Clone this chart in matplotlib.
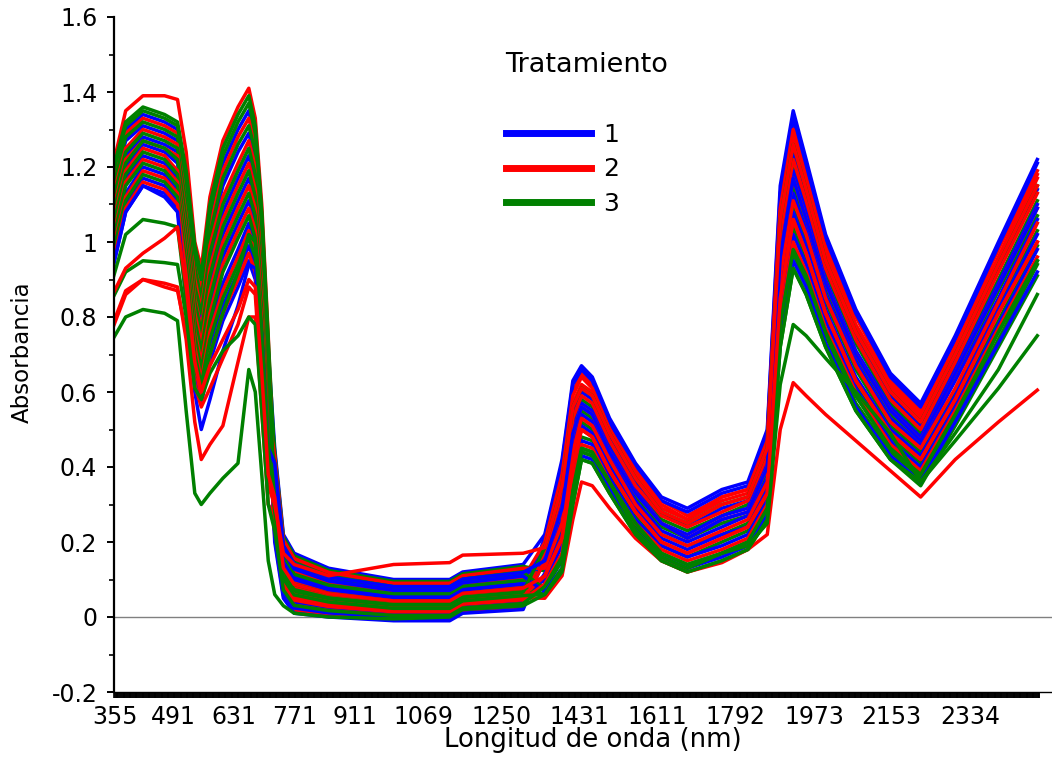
import numpy as np
import matplotlib
matplotlib.use("Agg")
import matplotlib.pyplot as plt
from matplotlib.lines import Line2D

wavelength = [350, 380, 420, 470, 500, 520, 540, 555, 575, 605, 640, 665, 680, 695, 710,
              725, 745, 770, 850, 1000, 1130, 1160, 1300,
              1350, 1390, 1415, 1435, 1460, 1500, 1560, 1620, 1680, 1760, 1820, 1865,
              1895, 1925, 1955, 2000, 2070, 2150, 2220, 2300, 2400, 2490]

# treatment 1 (blue)
blue_spectra = [
    [1.17, 1.30, 1.34, 1.32, 1.30, 1.16, .96, .88, 1.06, 1.21, 1.30, 1.35, 1.27, 1.05, .71,
     .45, .220, .170, .130, .100, .100, .120, .140,
     .220, .42, .63, .67, .64, .53, .41, .32, .29, .34, .36, .50, 1.15, 1.35, 1.22, 1.02, .82, .65, .57, .75, 1.00, 1.22],
    [1.13, 1.27, 1.31, 1.29, 1.27, 1.12, .91, .84, 1.01, 1.15, 1.24, 1.29, 1.22, 1.00, .67,
     .24, .080, .038, .023, .009, .009, .029, .041,
     .213, .41, .62, .66, .63, .52, .40, .31, .28, .33, .35, .49, 1.13, 1.33, 1.20, 1.01, .81, .64, .56, .74, .99, 1.21],
    [1.09, 1.23, 1.28, 1.26, 1.24, 1.08, .87, .79, .95, 1.08, 1.17, 1.23, 1.16, .95, .63,
     .35, .153, .107, .079, .057, .057, .077, .093,
     .178, .34, .54, .60, .58, .48, .36, .28, .24, .29, .31, .44, 1.04, 1.24, 1.13, .94, .75, .59, .51, .69, .93, 1.14],
    [1.06, 1.20, 1.26, 1.24, 1.21, 1.04, .82, .74, .89, 1.02, 1.11, 1.17, 1.11, .90, .59,
     .20, .050, .010, .000, -.010, -.010, .010, .020,
     .157, .30, .50, .57, .55, .45, .34, .25, .22, .27, .29, .41, .98, 1.19, 1.08, .90, .71, .56, .48, .66, .89, 1.10],
    [1.02, 1.17, 1.23, 1.21, 1.17, 1.00, .78, .70, .83, .96, 1.05, 1.11, 1.05, .85, .55,
     .40, .183, .135, .102, .076, .076, .096, .114,
     .137, .26, .46, .54, .52, .43, .31, .23, .20, .24, .27, .37, .93, 1.13, 1.03, .86, .68, .53, .46, .63, .85, 1.06],
    [.99, 1.13, 1.20, 1.18, 1.14, .97, .73, .65, .78, .89, .98, 1.05, .99, .80, .52,
     .22, .065, .024, .011, .000, .000, .020, .030,
     .116, .22, .41, .51, .49, .40, .29, .21, .18, .22, .24, .34, .87, 1.08, .99, .82, .64, .50, .43, .59, .82, 1.02],
    [.95, 1.10, 1.17, 1.15, 1.11, .93, .69, .60, .72, .83, .92, .99, .94, .75, .48,
     .34, .146, .100, .073, .052, .052, .072, .088,
     .095, .19, .37, .47, .46, .37, .26, .19, .16, .19, .22, .31, .81, 1.02, .94, .79, .61, .47, .40, .56, .78, .98],
    [.93, 1.08, 1.15, 1.13, 1.09, .90, .66, .57, .68, .79, .88, .95, .90, .72, .45,
     .38, .176, .128, .096, .071, .071, .091, .109,
     .067, .13, .31, .43, .42, .34, .23, .16, .13, .16, .19, .27, .74, .95, .88, .73, .56, .43, .36, .52, .73, .92],
    [.93, 1.08, 1.15, 1.12, 1.08, .84, .60, .50, .58, .71, .83, .94, .93, .75, .45,
     .41, .190, .142, .107, .081, .081, .101, .119,
     .150, .29, .49, .56, .54, .44, .33, .25, .21, .26, .28, .40, .96, 1.17, 1.06, .89, .70, .55, .47, .65, .88, 1.09],
]

# treatment 2 (red)
red_spectra = [
    [1.20, 1.35, 1.39, 1.39, 1.38, 1.24, 1.00, .93, 1.12, 1.27, 1.36, 1.41, 1.33, 1.10, .75,
     .31, .124, .080, .057, .038, .038, .058, .072,
     .206, .39, .60, .65, .62, .51, .39, .31, .27, .32, .34, .48, 1.11, 1.31, 1.19, .99, .80, .63, .55, .73, .98, 1.19],
    [1.15, 1.29, 1.33, 1.31, 1.29, 1.15, .94, .87, 1.04, 1.19, 1.28, 1.33, 1.26, 1.03, .70,
     .37, .168, .121, .090, .067, .067, .087, .103,
     .199, .38, .59, .64, .61, .50, .39, .30, .26, .32, .34, .47, 1.09, 1.30, 1.17, .98, .78, .62, .54, .72, .96, 1.18],
    [1.12, 1.25, 1.30, 1.28, 1.26, 1.11, .90, .82, .99, 1.12, 1.21, 1.27, 1.20, .98, .66,
     .21, .057, .017, .006, -.005, -.005, .015, .025,
     .192, .37, .57, .62, .60, .50, .38, .29, .26, .31, .33, .46, 1.08, 1.28, 1.16, .97, .77, .61, .53, .71, .95, 1.17],
    [1.08, 1.22, 1.27, 1.25, 1.23, 1.07, .85, .77, .93, 1.06, 1.15, 1.21, 1.14, .94, .62,
     .33, .139, .093, .068, .047, .047, .067, .083,
     .171, .33, .53, .59, .57, .47, .35, .27, .24, .28, .31, .43, 1.02, 1.22, 1.11, .93, .74, .58, .50, .68, .92, 1.13],
    [1.05, 1.19, 1.25, 1.23, 1.19, 1.03, .81, .73, .87, 1.00, 1.09, 1.15, 1.09, .89, .58,
     .23, .072, .031, .017, .004, .004, .024, .036,
     .150, .29, .49, .56, .54, .44, .33, .25, .21, .26, .28, .40, .96, 1.17, 1.06, .89, .70, .55, .47, .65, .88, 1.09],
    [1.01, 1.16, 1.22, 1.20, 1.16, .99, .76, .68, .81, .94, 1.03, 1.09, 1.03, .84, .54,
     .43, .205, .156, .119, .090, .090, .110, .130,
     .130, .25, .44, .53, .51, .42, .30, .22, .19, .23, .26, .36, .91, 1.11, 1.02, .85, .67, .52, .45, .61, .84, 1.05],
    [.98, 1.12, 1.19, 1.17, 1.13, .95, .72, .63, .76, .87, .96, 1.03, .97, .79, .50,
     .28, .102, .059, .040, .023, .023, .043, .057,
     .109, .21, .40, .50, .48, .39, .28, .20, .17, .21, .24, .33, .85, 1.06, .97, .81, .63, .49, .42, .58, .81, 1.00],
    [.94, 1.09, 1.16, 1.14, 1.10, .91, .67, .59, .70, .81, .90, .97, .92, .74, .46,
     .25, .087, .045, .028, .014, .014, .034, .046,
     .088, .17, .36, .46, .45, .36, .25, .18, .15, .18, .21, .30, .79, 1.00, .92, .77, .60, .46, .39, .55, .77, .96],
    [.77, .86, .90, .89, .88, .74, .52, .42, .46, .51, .68, .80, .80, .55, .30,
     .27, .094, .052, .034, .019, .019, .039, .051,
     .05, .11, .26, .36, .35, .29, .21, .15, .12, .145, .18, .22, .50, .625, .59, .54, .47, .39, .32, .42, .52, .605],
    [.78, .87, .90, .88, .87, .76, .62, .56, .61, .69, .78, .88, .86, .60, .35,
     .30, .17, .14, .11, .14, .145, .165, .17,
     .185, .35, .56, .61, .59, .49, .37, .28, .25, .30, .32, .45, 1.06, 1.26, 1.14, .95, .76, .60, .52, .70, .94, 1.15],
    [.86, .93, .97, 1.01, 1.04, .88, .68, .60, .67, .74, .82, .90, .88, .65, .38,
     .32, .131, .087, .062, .043, .043, .063, .077,
     .109, .21, .40, .50, .48, .39, .28, .20, .17, .21, .24, .33, .85, 1.06, .97, .81, .63, .49, .42, .58, .81, 1.00],
]

# treatment 3 (green)
green_spectra = [
    [1.19, 1.32, 1.36, 1.34, 1.32, 1.19, .99, .91, 1.10, 1.25, 1.34, 1.39, 1.31, 1.08, .74,
     .42, .198, .149, .113, .086, .086, .106, .124,
     .143, .28, .47, .55, .53, .43, .32, .24, .21, .25, .27, .39, .94, 1.15, 1.05, .88, .69, .54, .47, .64, .87, 1.07],
    [1.14, 1.28, 1.32, 1.30, 1.28, 1.13, .93, .85, 1.02, 1.17, 1.26, 1.31, 1.24, 1.02, .68,
     .29, .109, .066, .045, .028, .028, .048, .062,
     .164, .32, .52, .58, .56, .46, .34, .26, .23, .27, .30, .42, 1.00, 1.20, 1.10, .92, .73, .57, .49, .67, .90, 1.11],
    [1.11, 1.24, 1.29, 1.27, 1.25, 1.10, .88, .81, .97, 1.10, 1.19, 1.25, 1.18, .97, .65,
     .44, .213, .163, .124, .095, .095, .115, .135,
     .123, .24, .43, .52, .50, .41, .29, .22, .19, .22, .25, .35, .89, 1.09, 1.00, .84, .66, .51, .44, .60, .83, 1.03],
    [1.07, 1.21, 1.27, 1.25, 1.22, 1.06, .84, .76, .91, 1.04, 1.13, 1.19, 1.12, .92, .61,
     .27, .094, .052, .034, .019, .019, .039, .051,
     .102, .20, .39, .48, .47, .38, .27, .19, .16, .20, .23, .32, .83, 1.04, .95, .80, .62, .48, .41, .57, .79, .99],
    [1.04, 1.18, 1.24, 1.22, 1.18, 1.02, .79, .71, .85, .98, 1.07, 1.13, 1.07, .87, .57,
     .36, .161, .114, .085, .062, .062, .082, .098,
     .081, .16, .34, .45, .44, .36, .25, .17, .14, .17, .20, .29, .78, .98, .91, .76, .59, .45, .38, .54, .76, .95],
    [1.00, 1.15, 1.21, 1.19, 1.15, .98, .75, .66, .79, .92, 1.01, 1.07, 1.01, .82, .53,
     .32, .131, .087, .062, .043, .043, .063, .077,
     .060, .12, .30, .42, .41, .33, .22, .15, .12, .15, .18, .26, .72, .93, .86, .72, .55, .42, .35, .51, .72, .91],
    [.97, 1.11, 1.18, 1.16, 1.12, .94, .70, .62, .74, .85, .94, 1.01, .96, .77, .49,
     .41, .190, .142, .107, .081, .081, .101, .119,
     .074, .15, .33, .44, .43, .35, .24, .16, .13, .17, .20, .28, .76, .97, .89, .75, .57, .44, .37, .53, .74, .94],
    [1.18, 1.31, 1.35, 1.33, 1.31, 1.17, .97, .90, 1.08, 1.23, 1.32, 1.37, 1.29, 1.07, .72,
     .30, .117, .073, .051, .033, .033, .053, .067,
     .185, .35, .56, .61, .59, .49, .37, .28, .25, .30, .32, .45, 1.06, 1.26, 1.14, .95, .76, .60, .52, .70, .94, 1.15],
    [.90, 1.02, 1.06, 1.05, 1.04, .85, .66, .62, .70, .81, .92, 1.02, 1.00, .75, .45,
     .28, .102, .059, .040, .023, .023, .043, .057,
     .06, .12, .30, .42, .41, .33, .22, .15, .12, .15, .18, .26, .72, .93, .86, .72, .55, .42, .36, .49, .66, .86],
    [.85, .92, .95, .945, .94, .80, .61, .58, .65, .71, .75, .80, .78, .55, .30,
     .23, .072, .031, .017, .004, .004, .024, .036,
     .081, .16, .34, .45, .44, .36, .25, .17, .14, .17, .20, .29, .78, .98, .91, .76, .59, .45, .38, .54, .76, .95],
    [.74, .80, .82, .81, .79, .55, .33, .30, .33, .37, .41, .66, .60, .38, .15,
     .06, .03, .01, .00, -.005, .00, .02, .03,
     .06, .13, .32, .44, .43, .36, .23, .16, .13, .17, .19, .25, .62, .78, .75, .69, .60, .49, .36, .47, .61, .75],
]

treatments = ["1", "2", "3"]
colors = ["#0000ff", "#ff0000", "#008000"]
x_ticks = [355, 491, 631, 771, 911, 1069, 1250, 1431, 1611, 1792, 1973, 2153, 2334]
y_ticks = [-0.2, 0, 0.2, 0.4, 0.6, 0.8, 1.0, 1.2, 1.4, 1.6]
y_tick_labels = ["-0.2", "0", "0.2", "0.4", "0.6", "0.8", "1", "1.2", "1.4", "1.6"]

if __name__ == "__main__":
    fig = plt.figure(figsize=(10.52, 7.67), dpi=100)
    ax = fig.add_axes([114 / 1052, 75 / 767, 938 / 1052, 675 / 767])

    ax.axhline(0, color="#808080", lw=1.0, zorder=1)

    # draw the treatments interleaved so that no colour hides the others
    groups = [blue_spectra, red_spectra, green_spectra]
    n = max(len(g) for g in groups)
    for i in range(n):
        for spectra, color in zip(groups, colors):
            if i < len(spectra):
                ax.plot(wavelength, spectra[i], color=color, lw=2.5, zorder=2)

    ax.set_xlim(353, 2524)
    ax.set_ylim(-0.2, 1.6)

    ax.spines["top"].set_visible(False)
    ax.spines["right"].set_visible(False)
    ax.spines["left"].set_linewidth(1.6)
    ax.spines["bottom"].set_linewidth(1.0)

    ax.set_xticks(x_ticks)
    ax.set_xticklabels([str(v) for v in x_ticks])
    ax.set_xticks(np.arange(353, 2497, 2), minor=True)
    ax.tick_params(axis="x", which="both", direction="out", length=4.4, width=1.2,
                   pad=5, labelsize=17)

    ax.set_yticks(y_ticks)
    ax.set_yticklabels(y_tick_labels)
    ax.set_yticks(np.arange(-0.1, 1.6, 0.2), minor=True)
    ax.tick_params(axis="y", which="major", direction="out", length=5, width=1.4,
                   pad=7, labelsize=17)
    ax.tick_params(axis="y", which="minor", direction="out", length=3.5, width=1.2)

    fig.text(593 / 1052, 1 - 740 / 767, "Longitud de onda (nm)", ha="center", va="center",
             fontsize=18.7)
    fig.text(22 / 1052, 1 - 352 / 767, "Absorbancia", ha="center", va="center",
             rotation=90, fontsize=16.5)

    handles = [Line2D([], [], color=c, lw=5) for c in colors]
    ax.legend(handles, treatments, loc="upper left", bbox_to_anchor=(0.418, 0.843),
              frameon=False, fontsize=18, handlelength=3.4, handletextpad=0.5,
              labelspacing=0.42, borderpad=0, borderaxespad=0)
    ax.text(0.417, 0.929, "Tratamiento", transform=ax.transAxes, ha="left", va="center",
            fontsize=19.5)

    plt.savefig("out.png", dpi=100)
    plt.close()
